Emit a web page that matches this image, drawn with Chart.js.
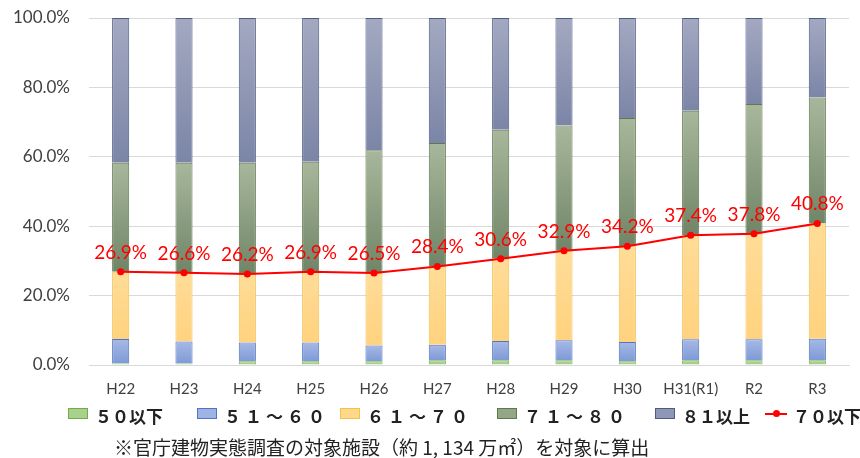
<!DOCTYPE html>
<html lang="ja">
<head>
<meta charset="utf-8">
<script src="https://cdn.jsdelivr.net/npm/chart.js@4.4.1/dist/chart.umd.min.js"></script>
<style>
  html, body { margin: 0; padding: 0; background: #fff; }
  #wrap { position: relative; width: 860px; height: 458px; }
  #note { position: absolute; left: 114px; top: 436px; font: 19px "Noto Sans CJK JP"; color: #222; white-space: nowrap; line-height: 22px; }
  .item { position: absolute; top: 403px; height: 24px; display: flex; align-items: center; white-space: nowrap;
          font: bold 17px "Noto Sans CJK JP"; color: #222; }
  .item .sw { display: inline-block; width: 18px; height: 9px; margin-right: 7px; margin-top: -3px; }
  .item .ln { position: relative; display: inline-block; width: 22px; height: 2px; background: #ff0000; margin-right: 6px; margin-top: -3px; }
  .item .ln::after { content: ""; position: absolute; left: 8px; top: -2.5px; width: 7px; height: 7px; border-radius: 50%; background: #ff0000; }
  .wide { letter-spacing: 4px; }
</style>
</head>
<body>
<div id="wrap">
  <canvas id="c" width="860" height="458"></canvas>
  <div id="legend"></div>
  <div id="note">※官庁建物実態調査の対象施設（約 1, 134 万㎡）を対象に算出</div>
</div>
<script>
// Fiscal years
const years = ['H22', 'H23', 'H24', 'H25', 'H26', 'H27', 'H28', 'H29', 'H30', 'H31(R1)', 'R2', 'R3'];

// Share of floor area by building age band (%)
const under50    = [0.4, 0.4, 1.1, 1.1, 1.1, 1.4, 1.4, 1.4, 1.1, 1.4, 1.4, 1.4];
const from51to60 = [7.1, 6.4, 5.4, 5.4, 4.5, 4.4, 5.5, 5.7, 5.5, 6.0, 6.0, 6.2];
const from61to70 = [19.4, 19.8, 19.7, 20.4, 20.9, 22.6, 23.7, 25.8, 27.6, 30.0, 30.4, 33.2];
const from71to80 = [31.4, 31.7, 32.1, 31.7, 35.4, 35.6, 37.2, 36.1, 37.0, 35.9, 37.4, 36.3];
const over81     = [41.7, 41.7, 41.7, 41.4, 38.1, 36.0, 32.2, 31.0, 28.8, 26.7, 24.8, 22.9];

// Cumulative share of 70 and under (%)
const upTo70 = [26.9, 26.6, 26.2, 26.9, 26.5, 28.4, 30.6, 32.9, 34.2, 37.4, 37.8, 40.8];

// Value axis ticks (%)
const yTicks = [0, 20, 40, 60, 80, 100];

// Legend entries: label, swatch fill, swatch border, left offset
const legendEntries = [
  { label: '５０以下',   fill: '#a9d18e', border: '#70ad47', left: 68 },
  { label: '５１～６０', fill: '#9fb4e4', border: '#4f75c4', left: 197 },
  { label: '６１～７０', fill: '#ffd88a', border: '#f2c14e', left: 340 },
  { label: '７１～８０', fill: '#93a686', border: '#5e7a4d', left: 497 },
  { label: '８１以上',   fill: '#8e97b6', border: '#4d5b87', left: 655 },
  { label: '７０以下',   line: '#ff0000', left: 765 }
];

// Vertical gradient spanning one stacked segment
function segGradient(light, dark) {
  return (ctx) => {
    const chart = ctx.chart;
    const y = chart.scales.y;
    if (!y || ctx.type !== 'data') return dark;
    const sets = chart.data.datasets;
    let base = 0;
    for (let d = 0; d < ctx.datasetIndex; d++) {
      if (sets[d].stack === 'bars') base += sets[d].data[ctx.dataIndex];
    }
    const top = base + sets[ctx.datasetIndex].data[ctx.dataIndex];
    const y0 = y.getPixelForValue(base), y1 = y.getPixelForValue(top);
    if (!isFinite(y0) || !isFinite(y1) || y0 === y1) return dark;
    const g = chart.ctx.createLinearGradient(0, y1, 0, y0);
    g.addColorStop(0, light);
    g.addColorStop(1, dark);
    return g;
  };
}

// Percentages printed above the line points
const pointLabels = {
  id: 'pointLabels',
  afterDatasetsDraw(chart) {
    const idx = chart.data.datasets.findIndex(d => d.type === 'line');
    const meta = chart.getDatasetMeta(idx);
    const c = chart.ctx;
    c.save();
    c.font = '19px Lato';
    c.fillStyle = '#ff0000';
    c.textAlign = 'center';
    c.textBaseline = 'alphabetic';
    meta.data.forEach((pt, i) => {
      c.fillText(upTo70[i].toFixed(1) + '%', pt.x, pt.y - 13);
    });
    c.restore();
  }
};

const barCommon = { type: 'bar', stack: 'bars', borderWidth: 1, barPercentage: 0.27, categoryPercentage: 1, order: 1 };

new Chart(document.getElementById('c'), {
  data: {
    labels: years,
    datasets: [
      { ...barCommon, label: '５０以下', data: under50,
        backgroundColor: segGradient('#b3d69b', '#9ecb80'), borderColor: '#70ad47' },
      { ...barCommon, label: '５１～６０', data: from51to60,
        backgroundColor: segGradient('#a7b9e6', '#7e9ad6'), borderColor: '#4f75c4' },
      { ...barCommon, label: '６１～７０', data: from61to70,
        backgroundColor: segGradient('#ffdc98', '#ffd27e'), borderColor: '#f2c14e' },
      { ...barCommon, label: '７１～８０', data: from71to80,
        backgroundColor: segGradient('#a8b79b', '#708567'), borderColor: '#5e7a4d' },
      { ...barCommon, label: '８１以上', data: over81,
        backgroundColor: segGradient('#a4a9c1', '#7b85a6'), borderColor: '#4d5b87' },
      { type: 'line', stack: 'line', label: '７０以下', data: upTo70, order: 0,
        borderColor: '#ff0000', backgroundColor: '#ff0000', borderWidth: 2,
        pointRadius: 3.5, pointBackgroundColor: '#ff0000', pointBorderWidth: 0,
        tension: 0, fill: false }
    ]
  },
  options: {
    responsive: false,
    animation: false,
    events: [],
    layout: { padding: { left: 12, right: 11, top: 18, bottom: 60 } },
    scales: {
      x: {
        stacked: true,
        grid: { display: false, drawTicks: false },
        border: { display: true, color: '#d9d9d9' },
        ticks: { padding: 15, color: '#404040', font: { family: 'Lato', size: 15 }, maxRotation: 0, autoSkip: false },
        afterFit: (s) => { s.height = 33; }
      },
      y: {
        stacked: true,
        min: 0, max: 100,
        grid: { color: '#d9d9d9', lineWidth: 1, drawTicks: false },
        border: { display: false },
        afterBuildTicks: (s) => { s.ticks = yTicks.map(v => ({ value: v })); },
        ticks: { padding: 19, color: '#404040', font: { family: 'Lato', size: 17 },
                 callback: (v) => Number(v).toFixed(1) + '%' },
        afterFit: (s) => { s.width = 77; s.paddingTop = 10; s.paddingBottom = 10; }
      }
    },
    plugins: {
      tooltip: { enabled: false },
      legend: { display: false }
    }
  },
  plugins: [pointLabels]
});

// Legend row under the axis
const legendBox = document.getElementById('legend');
legendEntries.forEach((e) => {
  const item = document.createElement('div');
  item.className = 'item';
  item.style.left = e.left + 'px';
  const mark = document.createElement('span');
  if (e.line) {
    mark.className = 'ln';
  } else {
    mark.className = 'sw';
    mark.style.background = e.fill;
    mark.style.border = '1px solid ' + e.border;
  }
  const text = document.createElement('span');
  text.textContent = e.label;
  if (e.label.length > 4) text.className = 'wide';
  item.appendChild(mark);
  item.appendChild(text);
  legendBox.appendChild(item);
});
</script>
</body>
</html>
